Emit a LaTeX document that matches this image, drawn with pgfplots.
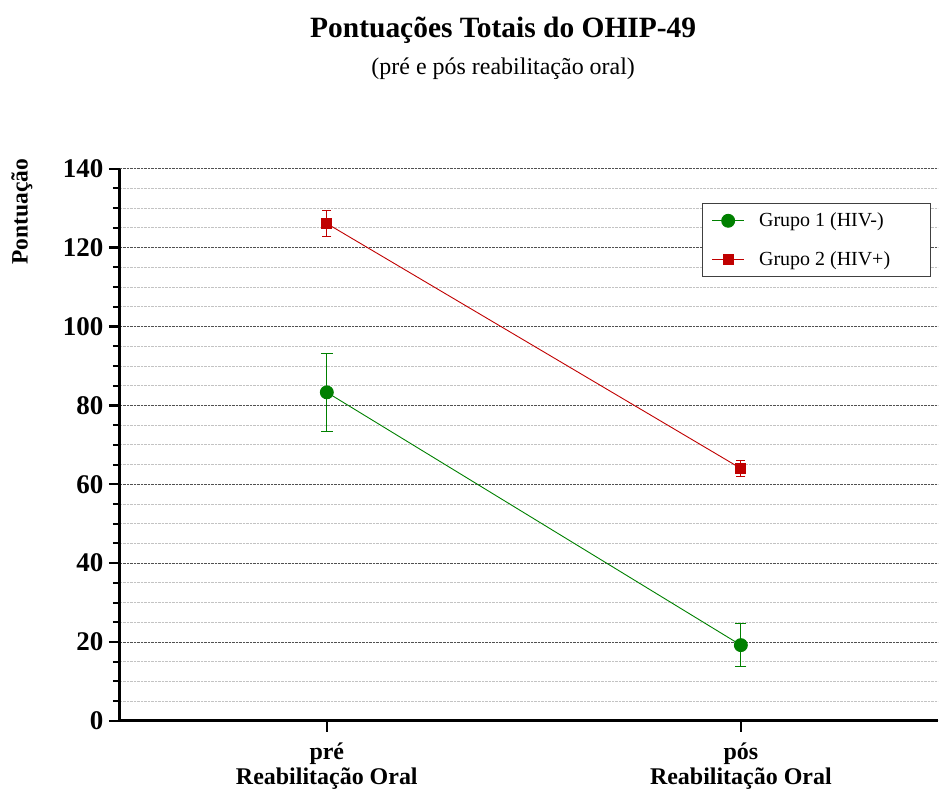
\documentclass[border=0pt]{standalone}
\usepackage{pgfplots}
\pgfplotsset{compat=1.18}
\usepackage{fontspec}
\setmainfont{Liberation Serif}

\definecolor{grpgreen}{RGB}{0,128,0}
\definecolor{grpred}{RGB}{192,0,0}
\definecolor{majgrid}{RGB}{80,80,80}
\definecolor{mingrid}{RGB}{195,195,195}

% error bar for one mean (+- half range), drawn in the given colour
\pgfplotsset{
  errbar/.style 2 args={
    color=#1, line width=1.2pt, mark=none, forget plot,
    error bars/.cd, y dir=both, y explicit,
    error bar style={line width=1.2pt, #1},
    error mark options={rotate=90, mark size=#2, line width=1.2pt, #1},
  },
}

\begin{document}
\begin{tikzpicture}[x=1pt,y=1pt]
\begin{axis}[
  name=ax,
  at={(120pt,68pt)},
  anchor=south west,
  scale only axis,
  width=819pt, height=553pt,
  xmin=0.5, xmax=2.475,
  ymin=0, ymax=140,
  axis x line*=bottom,
  axis y line*=left,
  axis line style={line width=3pt},
  xtick={1,2},
  xticklabels={pré\\Reabilitação Oral, pós\\Reabilitação Oral},
  xticklabel style={align=center, font=\fontsize{24}{25}\selectfont\bfseries, yshift=-8pt},
  ytick={0,20,...,140},
  minor ytick={5,10,...,135},
  yticklabel style={font=\fontsize{27}{28}\selectfont\bfseries, xshift=-2pt},
  /pgf/number format/assume math mode=true,
  tick align=outside,
  major tick length=11pt,
  minor tick length=7pt,
  every tick/.style={black, line width=2.4pt},
  minor tick style={line width=2pt},
  ymajorgrids, yminorgrids,
  major grid style={majgrid, densely dotted, line width=0.9pt},
  minor grid style={mingrid, densely dotted, line width=0.8pt},
  clip=false,
  legend style={
    at={(0.9915,0.9385)}, anchor=north east,
    draw=black!75, line width=0.9pt,
    font=\fontsize{20}{22}\selectfont,
    nodes={inner sep=0pt},
    row sep=23pt, inner xsep=0pt, inner ysep=10pt,
    legend cell align=left,
  },
  legend image code/.code={
    \path[draw=none, fill=none] (-10pt,0pt) -- (47pt,0pt);
    \draw[mark repeat=2,mark phase=2,#1]
      plot coordinates {(0pt,0pt) (16pt,0pt) (32pt,0pt)};
  },
]
% error bars, drawn first so the markers sit on top
\addplot[errbar={grpgreen}{6pt}]  coordinates {(1,83.3) +- (0,9.9)};
\addplot[errbar={grpgreen}{5.5pt}] coordinates {(2,19.2) +- (0,5.5)};
\addplot[errbar={grpred}{4.5pt}]  coordinates {(1,126.1) +- (0,3.3)};
\addplot[errbar={grpred}{4.5pt}]  coordinates {(2,64.0) +- (0,2.0)};
% Grupo 1 (HIV-): means
\addplot[color=grpgreen, line width=0.9pt, mark=*, mark size=6.5pt,
  mark options={fill=grpgreen, draw=grpgreen}]
  coordinates {(1,83.3) (2,19.2)};
\addlegendentry{Grupo 1 (HIV-)\rule{40pt}{0pt}}
% Grupo 2 (HIV+): means
\addplot[color=grpred, line width=0.9pt, mark=square*, mark size=5pt,
  mark options={fill=grpred, draw=grpred}]
  coordinates {(1,126.1) (2,64.0)};
\addlegendentry{Grupo 2 (HIV+)\rule{40pt}{0pt}}
\end{axis}
% titles and y label
\node[font=\fontsize{29.5}{32}\selectfont\bfseries] at (504pt,760pt) {Pontuações Totais do OHIP-49};
\node[font=\fontsize{24}{26}\selectfont] at (504pt,721pt) {(pré e pós reabilitação oral)};
\node[font=\fontsize{23.5}{25}\selectfont\bfseries, rotate=90] at (22pt,578pt) {Pontuação};
\path (0pt,0pt) rectangle (939pt,790pt);
\end{tikzpicture}
\end{document}
